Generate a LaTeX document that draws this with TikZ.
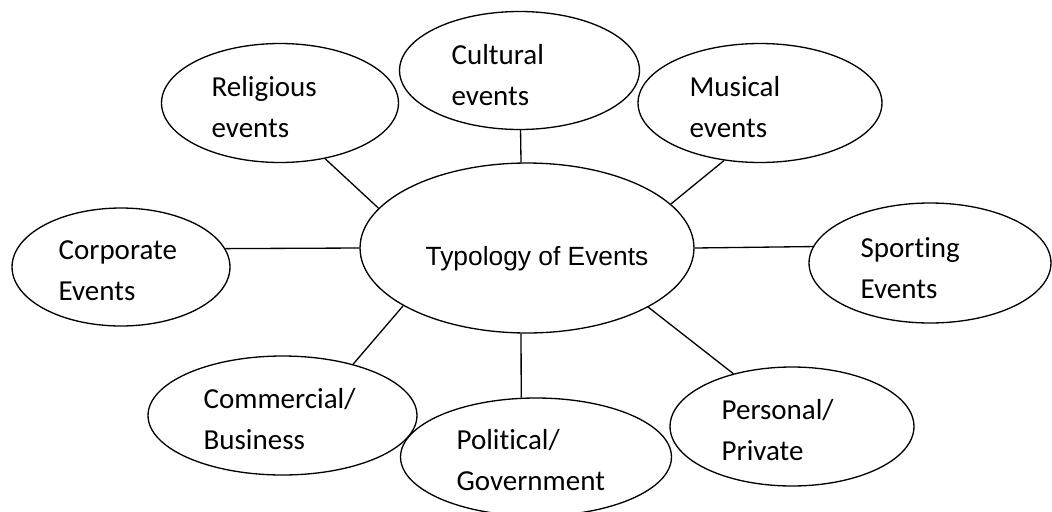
\documentclass[tikz,border=0pt]{standalone}
\usepackage{fontspec}
\setmainfont{Carlito}[Ligatures=NoCommon]
\newfontfamily\centrefont{Liberation Sans}
\usetikzlibrary{shapes.geometric}
\begin{document}
\begin{tikzpicture}[x=0.02cm,y=-0.02cm,line width=0.75pt,
   bubble/.style={draw,ellipse,inner sep=0pt},
   lbl/.style={align=left,inner sep=0pt,anchor=base west,font=\fontsize{16.5}{23}\selectfont}]
   \useasboundingbox (0,0) rectangle (1052,511);
   % Typology
   \node[bubble,minimum width=6.68cm,minimum height=3.4cm] (typ) at (527,248) {};
   \node[inner sep=0pt,anchor=base west,font=\centrefont\fontsize{15}{18}\selectfont] (typ-l) at (425,265) {Typology of Events};
   % Kinds of events
   \node[bubble,minimum width=4.74cm,minimum height=2.38cm] (rel) at (280,103) {};
   \node[bubble,minimum width=4.8cm,minimum height=2.36cm] (cul) at (519.5,70.5) {};
   \node[bubble,minimum width=4.88cm,minimum height=2.38cm] (mus) at (760,103) {};
   \node[bubble,minimum width=4.36cm,minimum height=2.36cm] (cor) at (121,267) {};
   \node[bubble,minimum width=4.84cm,minimum height=2.4cm] (spo) at (930,263) {};
   \node[bubble,minimum width=5.38cm,minimum height=2.38cm] (com) at (282.5,415.5) {};
   \node[bubble,minimum width=5.42cm,minimum height=2.36cm] (pol) at (536,457) {};
   \node[bubble,minimum width=4.88cm,minimum height=2.38cm] (per) at (792,426.5) {};
   % Labels (anchored on the second line)
   \node[lbl] (rel-l) at (211,137) {Religious\\events};
   \node[lbl] (cul-l) at (451,105) {Cultural\\events};
   \node[lbl] (mus-l) at (689,137) {Musical\\events};
   \node[lbl] (cor-l) at (58,300) {Corporate\\Events};
   \node[lbl] (spo-l) at (860,298) {Sporting\\Events};
   \node[lbl] (com-l) at (203,449) {Commercial/\\Business};
   \node[lbl] (pol-l) at (456,490) {Political/\\Government};
   \node[lbl] (per-l) at (721,460) {Personal/\\Private};
   % Spokes
   \draw (rel.-51) -- (typ.165);
   \draw (cul.-89) -- (typ.94);
   \draw (mus.238) -- (typ.17);
   \draw (cor.10) -- (typ.west);
   \draw (typ.east) -- (spo.172);
   \draw (typ.205) -- (com.36);
   \draw (typ.266) -- (pol.104);
   \draw (typ.334) -- (per.138);
\end{tikzpicture}
\end{document}
